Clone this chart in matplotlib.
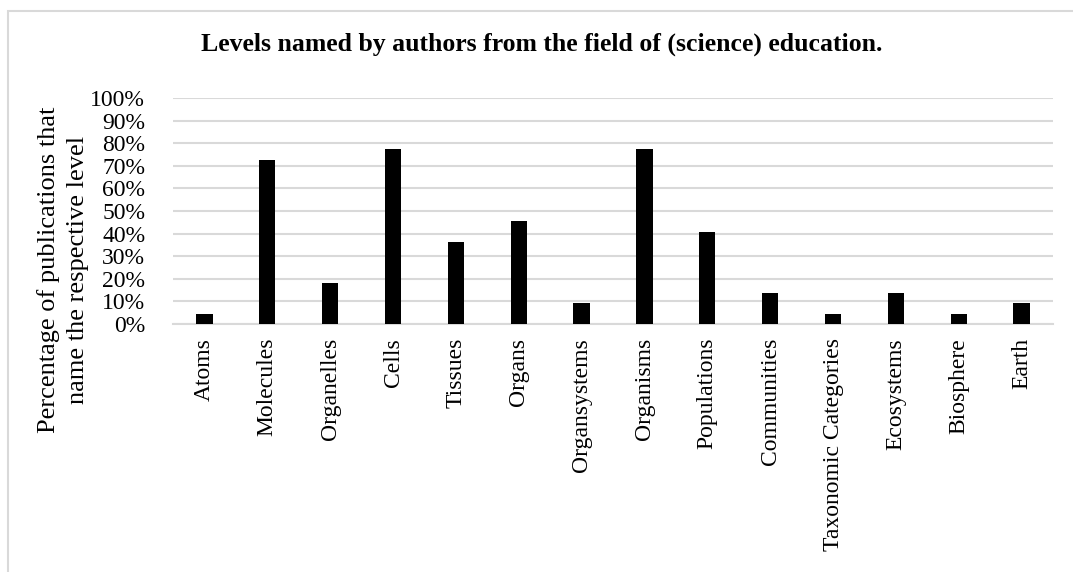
import matplotlib.pyplot as plt
from matplotlib.patches import Rectangle

# Data
levels = ["Atoms", "Molecules", "Organelles", "Cells", "Tissues", "Organs",
          "Organsystems", "Organisms", "Populations", "Communities",
          "Taxonomic Categories", "Ecosystems", "Biosphere", "Earth"]
percent = [4.5, 72.7, 18.2, 77.3, 36.4, 45.5, 9.1, 77.3, 40.9, 13.6,
           4.5, 13.6, 4.5, 9.1]
yticks = [0, 10, 20, 30, 40, 50, 60, 70, 80, 90, 100]

plt.rcParams['font.family'] = ['Liberation Serif', 'DejaVu Serif']

fig = plt.figure(figsize=(10.73, 5.72), dpi=100)
W, H = 1073, 572
ax = fig.add_axes([173 / W, 1 - 324 / H, (1053 - 173) / W, (324 - 98) / H])

x = range(len(levels))
ax.bar(x, percent, width=0.26, color='black', zorder=3)

ax.set_xlim(-0.5, len(levels) - 0.5)
ax.set_ylim(0, 100)
ax.set_yticks(yticks)
ax.set_yticklabels([f"{t}%" for t in yticks], fontsize=17)
ax.set_xticks(list(x))
ax.set_xticklabels(levels, rotation=90, fontsize=17)
ax.tick_params(axis='both', length=0)
ax.tick_params(axis='y', pad=20)
ax.tick_params(axis='x', pad=10)

ax.grid(axis='y', color='#d9d9d9', linewidth=1.5, zorder=0)
for s in ['top', 'right', 'left']:
    ax.spines[s].set_visible(False)
ax.spines['bottom'].set_color('#d9d9d9')
ax.spines['bottom'].set_linewidth(1.5)

fig.text(542 / W, 1 - 44 / H,
         "Levels named by authors from the field of (science) education.",
         ha='center', va='center', fontsize=18.5, fontweight='bold')

fig.text(63 / W, 1 - 270 / H,
         "Percentage of publications that\nname the respective level",
         ha='center', va='center', rotation=90, fontsize=19, linespacing=1.45)

# chart frame
fig.patches.append(Rectangle((8 / W, -0.05), 1.2, 1 - 11 / H + 0.05,
                             transform=fig.transFigure, fill=False,
                             edgecolor='#d9d9d9', linewidth=1.5))

fig.savefig("out.png", dpi=100)
